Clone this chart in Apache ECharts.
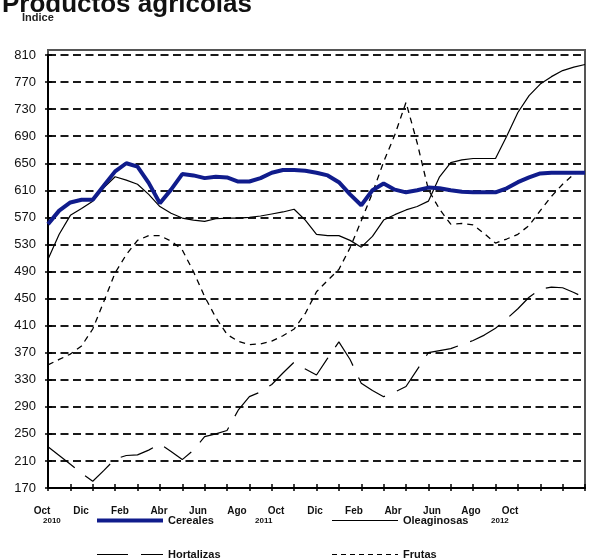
<!DOCTYPE html>
<html>
<head>
<meta charset="utf-8">
<script src="https://cdn.jsdelivr.net/npm/echarts@6/dist/echarts.min.js"></script>
<style>html,body{margin:0;padding:0;background:#fff}#c{width:598px;height:560px}</style>
</head>
<body>
<div id="c"></div>
<script>
// half-month steps, Oct 2010 .. Oct 2012
var periods = ["2010-10-01","2010-10-15","2010-11-01","2010-11-15","2010-12-01","2010-12-15",
"2011-01-01","2011-01-15","2011-02-01","2011-02-15","2011-03-01","2011-03-15","2011-04-01","2011-04-15",
"2011-05-01","2011-05-15","2011-06-01","2011-06-15","2011-07-01","2011-07-15","2011-08-01","2011-08-15",
"2011-09-01","2011-09-15","2011-10-01","2011-10-15","2011-11-01","2011-11-15","2011-12-01","2011-12-15",
"2012-01-01","2012-01-15","2012-02-01","2012-02-15","2012-03-01","2012-03-15","2012-04-01","2012-04-15",
"2012-05-01","2012-05-15","2012-06-01","2012-06-15","2012-07-01","2012-07-15","2012-08-01","2012-08-15",
"2012-09-01","2012-09-15","2012-10-01"];

var cereales = [560,580,592,596,596,617,638,650,645,621,591,611,634,632,628,630,629,623,623,628,636,640,640,639,636,632,622,604,588,610,620,611,607,610,614,613,610,608,607,607,607,613,622,629,635,636,636,636,636];
var oleaginosas = [508,545,573,583,594,614,630,625,619,604,586,576,569,566,564,568,569,569,570,572,575,578,582,566,545,543,543,536,526,542,566,574,581,586,594,630,651,655,657,657,657,690,725,750,767,778,787,792,796];
var hortalizas = [231,218,205,192,180,196,213,218,219,226,235,224,212,226,246,250,255,285,305,312,323,340,356,346,337,362,386,360,325,314,305,312,320,345,370,373,376,382,388,396,406,420,435,452,464,467,466,459,451];
var frutas = [352,360,368,380,405,446,488,515,536,543,543,535,522,490,453,422,397,387,382,383,387,395,405,428,460,477,493,525,565,606,652,692,740,680,611,582,560,561,559,546,532,538,545,558,580,601,619,634,640];

var monthLabels = ["Oct","Dic","Feb","Abr","Jun","Ago","Oct","Dic","Feb","Abr","Jun","Ago","Oct"];
var yearLabels = ["2010","2011","2012"];
var yMin = 170, yMax = 810, yStep = 40;

var chart = echarts.init(document.getElementById('c'), null, {renderer:'canvas'});
var F = 'Liberation Sans, Arial, sans-serif';
var tickEvery = function(i){ return i % 2 === 0; };

var iconThick = 'path://M0,0h66v4h-66z';
var iconSolid = 'path://M0,0h66v1h-66z';
var iconLong = 'path://M0,0h31v1h-31zM44,0h22v1h-22z';
var iconShort = 'path://M0,0h5v1h-5zM9,0h5v1h-5zM18,0h5v1h-5zM27,0h5v1h-5zM36,0h5v1h-5zM45,0h5v1h-5zM54,0h5v1h-5zM63,0h3v1h-3z';

function leg(name, left, top, icon, h, color){
  return {data:[{name:name, icon:icon, itemStyle:{color:color, borderWidth:0}}],
    left:left, top:top, itemWidth:66, itemHeight:h, itemGap:0,
    padding:0, selectedMode:false,
    textStyle:{fontFamily:F, fontSize:11, fontWeight:'bold', color:'#111'}};
}

chart.setOption({
  animation:false,
  backgroundColor:'#fff',
  title:{text:'Productos agrícolas', left:-3, top:-13, textStyle:{fontFamily:F, fontSize:26, fontWeight:'bold', color:'#111'}},
  grid:[
    {left:48, right:13, top:55, bottom:72},
    {left:42, right:88, top:500, height:1}
  ],
  xAxis:[
    {type:'category', gridIndex:0, data:periods, boundaryGap:false,
     axisLine:{lineStyle:{color:'#000', width:2}},
     axisTick:{inside:true, length:4, interval:tickEvery, lineStyle:{color:'#000', width:1.5}},
     axisLabel:{show:false}, splitLine:{show:false}},
    {type:'category', gridIndex:0, data:periods, boundaryGap:false, position:'bottom',
     axisLine:{show:false},
     axisTick:{inside:false, length:3, interval:tickEvery, lineStyle:{color:'#000', width:1.5}},
     axisLabel:{show:false}, splitLine:{show:false}},
    {type:'category', gridIndex:1, data:monthLabels, boundaryGap:false,
     axisLine:{show:false}, axisTick:{show:false},
     axisLabel:{interval:0, margin:5, fontFamily:F, fontSize:10, fontWeight:'bold', color:'#111'}}
  ],
  yAxis:[
    {type:'value', gridIndex:0, min:yMin, max:yMax, interval:yStep,
     axisLine:{show:true, lineStyle:{color:'#000', width:2}},
     axisTick:{show:true, inside:true, length:4, lineStyle:{color:'#000', width:1.5}},
     axisLabel:{margin:12, fontFamily:F, fontSize:13, color:'#111'},
     splitLine:{show:true, lineStyle:{color:'#1a1a1a', width:2, type:[8,4.5]}}},
    {type:'value', gridIndex:0, min:yMin, max:yMax, interval:yStep, position:'left',
     axisLine:{show:false},
     axisTick:{show:true, inside:false, length:3, lineStyle:{color:'#000', width:1.5}},
     axisLabel:{show:false}, splitLine:{show:false}},
    {type:'value', gridIndex:1, show:false}
  ],
  legend:[
    leg('Cereales', 97, 515, iconThick, 4, '#101c8c'),
    leg('Hortalizas', 97, 549, iconLong, 1.3, '#000'),
    leg('Oleaginosas', 332, 515, iconSolid, 1.3, '#000'),
    leg('Frutas', 332, 549, iconShort, 1.3, '#000')
  ],
  graphic:[
    {type:'rect', shape:{x:48, y:50, width:537, height:438}, style:{fill:'none', stroke:'#555', lineWidth:2}, z:-1},
    {type:'text', left:22, top:12, z:10, style:{text:'Indice', font:'bold 11px '+F, fill:'#222'}},
    {type:'text', left:43, top:517, style:{text:yearLabels[0], font:'bold 8px '+F, fill:'#111'}},
    {type:'text', left:255, top:517, style:{text:yearLabels[1], font:'bold 8px '+F, fill:'#111'}},
    {type:'text', left:491, top:517, style:{text:yearLabels[2], font:'bold 8px '+F, fill:'#111'}}
  ],
  series:[
    {name:'Frutas', type:'line', data:frutas, symbol:'none', z:2,
     lineStyle:{color:'#000', width:1.3, type:[6,5]}, itemStyle:{color:'#000'}},
    {name:'Hortalizas', type:'line', data:hortalizas, symbol:'none', z:2,
     lineStyle:{color:'#000', width:1.2, type:[34,13]}, itemStyle:{color:'#000'}},
    {name:'Oleaginosas', type:'line', data:oleaginosas, symbol:'none', z:3,
     lineStyle:{color:'#000', width:1.2}, itemStyle:{color:'#000'}},
    {name:'Cereales', type:'line', data:cereales, symbol:'none', z:4,
     lineStyle:{color:'#101c8c', width:4}, itemStyle:{color:'#101c8c'}}
  ]
});
</script>
</body>
</html>
